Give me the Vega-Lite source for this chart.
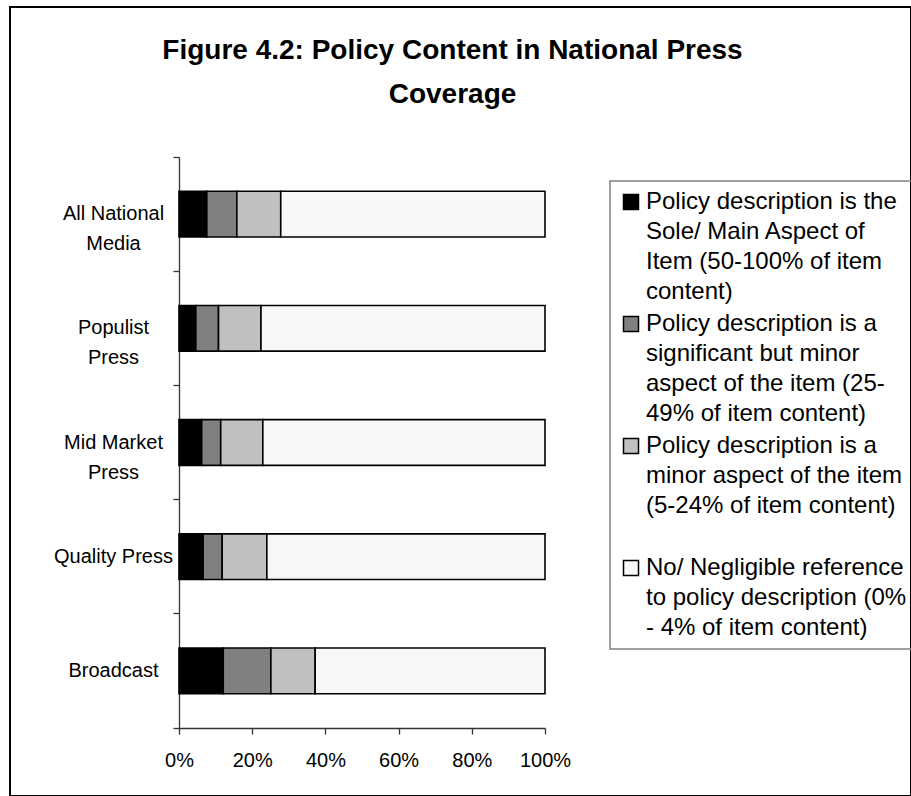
{
  "$schema": "https://vega.github.io/schema/vega-lite/v6.json",
  "autosize": {"type": "none"},
  "padding": {"left": 10, "top": 7, "right": 0, "bottom": 0},
  "width": 901,
  "height": 789,
  "background": "white",
  "title": {
    "text": ["Figure 4.2: Policy Content in National Press", "Coverage"],
    "font": "Liberation Sans",
    "fontSize": 28,
    "fontWeight": "bold",
    "color": "black",
    "anchor": "middle",
    "lineHeight": 44,
    "offset": -112,
    "dx": -8
  },
  "data": {
    "values": [
      {"outlet": "All National|Media", "category": "Policy description is the|Sole/ Main Aspect of|Item (50-100% of item|content)", "order": 1, "pct": 7.6},
      {"outlet": "All National|Media", "category": "Policy description is a|significant but minor|aspect of the item (25-|49% of item content)", "order": 2, "pct": 8.2},
      {"outlet": "All National|Media", "category": "Policy description is a|minor aspect of the item|(5-24% of item content)|", "order": 3, "pct": 12.0},
      {"outlet": "All National|Media", "category": "No/ Negligible reference|to policy description (0%|- 4% of item content)", "order": 4, "pct": 72.2},
      {"outlet": "Populist|Press", "category": "Policy description is the|Sole/ Main Aspect of|Item (50-100% of item|content)", "order": 1, "pct": 4.6},
      {"outlet": "Populist|Press", "category": "Policy description is a|significant but minor|aspect of the item (25-|49% of item content)", "order": 2, "pct": 6.2},
      {"outlet": "Populist|Press", "category": "Policy description is a|minor aspect of the item|(5-24% of item content)|", "order": 3, "pct": 11.6},
      {"outlet": "Populist|Press", "category": "No/ Negligible reference|to policy description (0%|- 4% of item content)", "order": 4, "pct": 77.6},
      {"outlet": "Mid Market|Press", "category": "Policy description is the|Sole/ Main Aspect of|Item (50-100% of item|content)", "order": 1, "pct": 6.2},
      {"outlet": "Mid Market|Press", "category": "Policy description is a|significant but minor|aspect of the item (25-|49% of item content)", "order": 2, "pct": 5.2},
      {"outlet": "Mid Market|Press", "category": "Policy description is a|minor aspect of the item|(5-24% of item content)|", "order": 3, "pct": 11.5},
      {"outlet": "Mid Market|Press", "category": "No/ Negligible reference|to policy description (0%|- 4% of item content)", "order": 4, "pct": 77.1},
      {"outlet": "Quality Press", "category": "Policy description is the|Sole/ Main Aspect of|Item (50-100% of item|content)", "order": 1, "pct": 6.6},
      {"outlet": "Quality Press", "category": "Policy description is a|significant but minor|aspect of the item (25-|49% of item content)", "order": 2, "pct": 5.2},
      {"outlet": "Quality Press", "category": "Policy description is a|minor aspect of the item|(5-24% of item content)|", "order": 3, "pct": 12.2},
      {"outlet": "Quality Press", "category": "No/ Negligible reference|to policy description (0%|- 4% of item content)", "order": 4, "pct": 76.0},
      {"outlet": "Broadcast", "category": "Policy description is the|Sole/ Main Aspect of|Item (50-100% of item|content)", "order": 1, "pct": 12.1},
      {"outlet": "Broadcast", "category": "Policy description is a|significant but minor|aspect of the item (25-|49% of item content)", "order": 2, "pct": 13.0},
      {"outlet": "Broadcast", "category": "Policy description is a|minor aspect of the item|(5-24% of item content)|", "order": 3, "pct": 12.1},
      {"outlet": "Broadcast", "category": "No/ Negligible reference|to policy description (0%|- 4% of item content)", "order": 4, "pct": 62.8}
    ]
  },
  "mark": {"type": "bar", "stroke": "black", "strokeWidth": 1.6, "height": {"band": 0.4}},
  "encoding": {
    "y": {
      "field": "outlet",
      "type": "nominal",
      "sort": ["All National|Media", "Populist|Press", "Mid Market|Press", "Quality Press", "Broadcast"],
      "scale": {"range": [150, 721], "paddingInner": 0, "paddingOuter": 0},
      "axis": {
        "title": null,
        "offset": -169,
        "labelExpr": "split(datum.label, '|')",
        "labelFont": "Liberation Sans",
        "labelFontSize": 20,
        "labelColor": "black",
        "labelAlign": "center",
        "labelBaseline": "middle",
        "labelLineHeight": 30,
        "labelPadding": 60,
        "labelLimit": 300,
        "bandPosition": 1,
        "tickExtra": true,
        "tickSize": 6,
        "tickColor": "#333333",
        "domainColor": "#333333",
        "domainWidth": 1.3,
        "tickWidth": 1.3,
        "grid": false
      }
    },
    "x": {
      "field": "pct",
      "type": "quantitative",
      "stack": "normalize",
      "scale": {"range": [169, 535], "domain": [0, 1]},
      "axis": {
        "title": null,
        "offset": -68,
        "format": ".0%",
        "values": [0, 0.2, 0.4, 0.6, 0.8, 1],
        "labelFont": "Liberation Sans",
        "labelFontSize": 20,
        "labelColor": "black",
        "labelPadding": 16,
        "tickSize": 6,
        "tickColor": "#333333",
        "domainColor": "#333333",
        "domainWidth": 1.3,
        "tickWidth": 1.3,
        "grid": false,
        "labelFlush": false
      }
    },
    "color": {
      "field": "category",
      "type": "nominal",
      "scale": {
        "domain": [
          "Policy description is the|Sole/ Main Aspect of|Item (50-100% of item|content)",
          "Policy description is a|significant but minor|aspect of the item (25-|49% of item content)",
          "Policy description is a|minor aspect of the item|(5-24% of item content)|",
          "No/ Negligible reference|to policy description (0%|- 4% of item content)"
        ],
        "range": ["#000000", "#808080", "#c0c0c0", "#f7f7f7"]
      },
      "legend": {
        "title": null,
        "orient": "none",
        "legendX": 600,
        "legendY": 174,
        "labelExpr": "split(datum.label, '|')",
        "labelFont": "Liberation Sans",
        "labelFontSize": 24,
        "labelColor": "black",
        "labelLimit": 400,
        "labelBaseline": "middle",
        "labelOffset": 3,
        "symbolType": "square",
        "symbolSize": 225,
        "symbolOffset": 0,
        "symbolStrokeColor": "black",
        "symbolStrokeWidth": 1.5,
        "symbolOpacity": 1,
        "rowPadding": 8,
        "padding": 9,
        "strokeColor": "#808080",
        "encode": {"labels": {"update": {"lineHeight": {"value": 30}}}}
      }
    },
    "order": {"field": "order", "type": "quantitative"}
  },
  "config": {
    "view": {"stroke": "black", "strokeWidth": 2},
    "legend": {"strokeWidth": 1.5}
  }
}
